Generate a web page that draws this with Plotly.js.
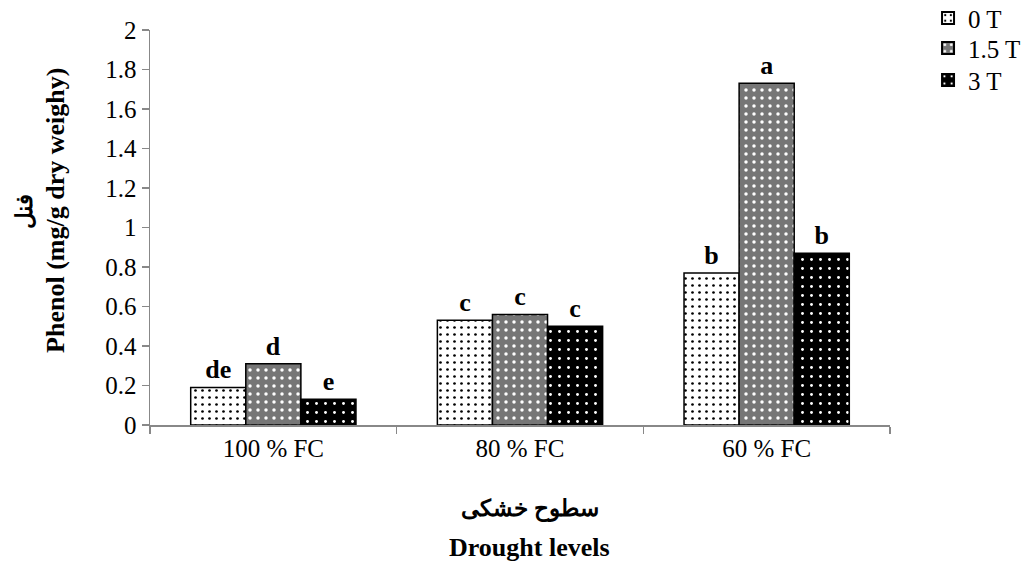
<!DOCTYPE html>
<html>
<head>
<meta charset="utf-8">
<script src="https://cdn.plot.ly/plotly-3.0.1.min.js"></script>
<style>html,body{margin:0;padding:0;background:#fff;}#chart{width:1022px;height:562px;}</style>
</head>
<body>
<div id="chart"></div>
<script>
const categories = ["100 % FC", "80 % FC", "60 % FC"];
const series_0T = [0.19, 0.53, 0.77];
const series_15T = [0.31, 0.56, 1.73];
const series_3T = [0.13, 0.50, 0.87];
const letters_0T = ["de", "c", "b"];
const letters_15T = ["d", "c", "a"];
const letters_3T = ["e", "c", "b"];
const seriesNames = ["0 T", "1.5 T", "3 T"];
const yTicks = [0, 0.2, 0.4, 0.6, 0.8, 1, 1.2, 1.4, 1.6, 1.8, 2];
const xTitleFa = "سطوح خشکی";
const xTitleEn = "Drought levels";
const yTitleFa = "فنل";
const yTitleEn = "Phenol (mg/g dry weighy)";

const serif = "Liberation Serif";
const textFont = {family: serif, size: 26, color: "#000", weight: "bold"};
const titleFont = {family: serif, size: 26, color: "#000", weight: "bold"};
const faFont = {family: serif, size: 23, color: "#000", weight: "bold"};

function mk(name, y, txt, pattern, legendId) {
  return {
    type: "bar", name: name, x: categories, y: y, text: txt,
    textposition: "outside", textfont: textFont, cliponaxis: false,
    marker: {color: pattern.bgcolor, line: {color: "#000", width: 1.5}, pattern: pattern},
    legend: legendId,
    hoverinfo: "none"
  };
}

const data = [
  mk(seriesNames[0], series_0T, letters_0T, {shape: ".", bgcolor: "#ffffff", fgcolor: "#000000", size: 7, solidity: 0.12, fillmode: "replace"}, "legend"),
  mk(seriesNames[1], series_15T, letters_15T, {shape: ".", bgcolor: "#767676", fgcolor: "#ffffff", size: 8, solidity: 0.15, fillmode: "replace"}, "legend2"),
  mk(seriesNames[2], series_3T, letters_3T, {shape: ".", bgcolor: "#000000", fgcolor: "#ffffff", size: 9, solidity: 0.08, fillmode: "replace"}, "legend3")
];

function leg(yc) {
  return {x: 1.0514, y: yc, xanchor: "left", yanchor: "middle", font: {family: serif, size: 25, color: "#000"}, itemwidth: 30, itemsizing: "constant", bgcolor: "rgba(0,0,0,0)"};
}

const layout = {
  width: 1022, height: 562,
  margin: {l: 150, r: 132, t: 30, b: 137, autoexpand: false},
  paper_bgcolor: "#fff", plot_bgcolor: "#fff",
  font: {family: serif, size: 25, color: "#000"},
  barmode: "group", bargap: 0.33, bargroupgap: 0,
  showlegend: true,
  legend: leg(1.030),
  legend2: leg(0.954),
  legend3: leg(0.873),
  xaxis: {
    type: "category", showline: true, linecolor: "#888", linewidth: 1.5,
    ticks: "outside", tickson: "boundaries", ticklen: 7, tickcolor: "#888", tickwidth: 1.5,
    showgrid: false, tickfont: {family: serif, size: 25, color: "#000"}
  },
  yaxis: {
    range: [0, 2], tickvals: yTicks, ticktext: yTicks.map(String),
    showline: true, linecolor: "#888", linewidth: 1.5,
    ticks: "outside", ticklen: 7, tickcolor: "#888", tickwidth: 1.5,
    showgrid: false, zeroline: false, tickfont: {family: serif, size: 25, color: "#000"}
  },
  annotations: [
    {text: xTitleFa, xref: "paper", yref: "paper", x: 0.5135, y: -0.215, xanchor: "center", yanchor: "middle", showarrow: false, font: faFont},
    {text: xTitleEn, xref: "paper", yref: "paper", x: 0.5135, y: -0.311, xanchor: "center", yanchor: "middle", showarrow: false, font: titleFont},
    {text: yTitleFa, xref: "paper", yref: "paper", x: -0.169, y: 0.542, xanchor: "center", yanchor: "middle", textangle: -90, showarrow: false, font: faFont},
    {text: yTitleEn, xref: "paper", yref: "paper", x: -0.127, y: 0.542, xanchor: "center", yanchor: "middle", textangle: -90, showarrow: false, font: titleFont}
  ]
};

Plotly.newPlot("chart", data, layout, {displayModeBar: false, staticPlot: true});
</script>
</body>
</html>
